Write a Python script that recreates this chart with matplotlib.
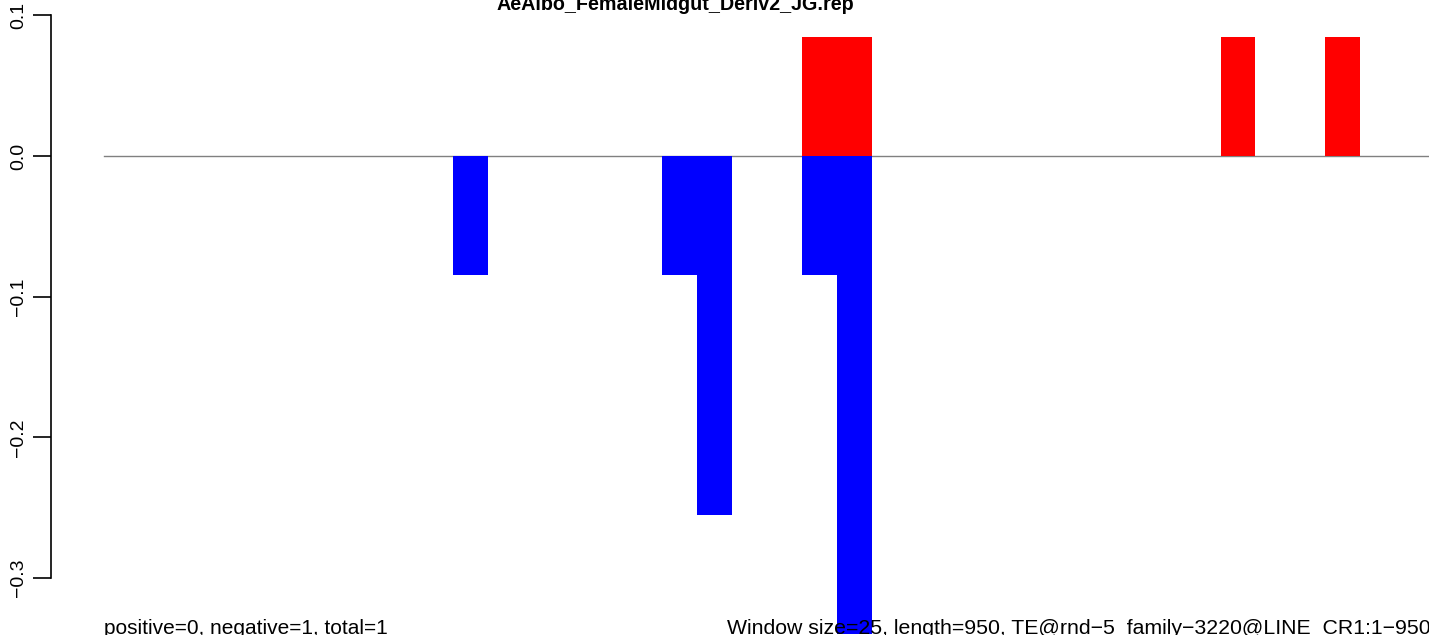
import numpy as np
from matplotlib import pyplot as plt

plt.rcParams['font.family'] = ['Liberation Sans', 'DejaVu Sans']

title = 'AeAlbo_FemaleMidgut_Deriv2_JG.rep'
leftNote = 'positive=0, negative=1, total=1'
rightNote = 'Window size=25, length=950, TE@rnd\u22125_family\u22123220@LINE_CR1:1\u2212950'

# one value per window (950 / 25 = 38 windows)
positiveValues = [0, 0, 0, 0, 0, 0, 0, 0, 0, 0,
                  0, 0, 0, 0, 0, 0, 0, 0, 0, 0,
                  0.0846, 0.0846, 0, 0, 0, 0, 0, 0, 0, 0,
                  0, 0, 0.0846, 0, 0, 0.0846, 0, 0]
negativeValues = [0, 0, 0, 0, 0, 0, 0, 0, 0, 0,
                  -0.0846, 0, 0, 0, 0, 0, -0.0846, -0.255, 0, 0,
                  -0.0846, -0.34, 0, 0, 0, 0, 0, 0, 0, 0,
                  0, 0, 0, 0, 0, 0, 0, 0]
yTicks = [-0.3, -0.2, -0.1, 0.0, 0.1]

W, H = 1429, 635
fig = plt.figure(figsize=(W / 100, H / 100), dpi=100)

# plot region runs past the right edge of the picture (cropped like the original)
left = 51 / W
ax = fig.add_axes([left, 0, 1432 / W, 1])

n = len(positiveValues)
x = np.arange(n) + 0.5
ax.set_xlim(-0.04 * n, n * 1.04)
ax.set_ylim(-0.3404, 0.1109)

ax.plot([0, n], [0, 0], color='#808080', linewidth=1, zorder=1)
ax.bar(x, positiveValues, width=1.0, color='red', linewidth=0, zorder=2)
ax.bar(x, negativeValues, width=1.0, color='blue', linewidth=0, zorder=2)

for side in ['top', 'right', 'bottom']:
    ax.spines[side].set_visible(False)
ax.spines['left'].set_bounds(-0.3, 0.1)
ax.spines['left'].set_linewidth(1.2)
ax.set_xticks([])
ax.set_yticks(yTicks)
ax.set_yticklabels([('%.1f' % t).replace('-', '\u2212') for t in yTicks],
                   rotation=90, va='center', fontsize=14)
ax.tick_params(axis='y', length=13, width=1.2, pad=4)
ax.patch.set_alpha(0)

fig.text(675 / W, 1 - 10 / H, title, ha='center', va='baseline', fontsize=14.2, fontweight='bold')
fig.text(104 / W, 1.5 / H, leftNote, ha='left', va='baseline', fontsize=15)
fig.text(727 / W, 1.5 / H, rightNote, ha='left', va='baseline', fontsize=15.3)

plt.savefig('out.png', dpi=100)
plt.close()
